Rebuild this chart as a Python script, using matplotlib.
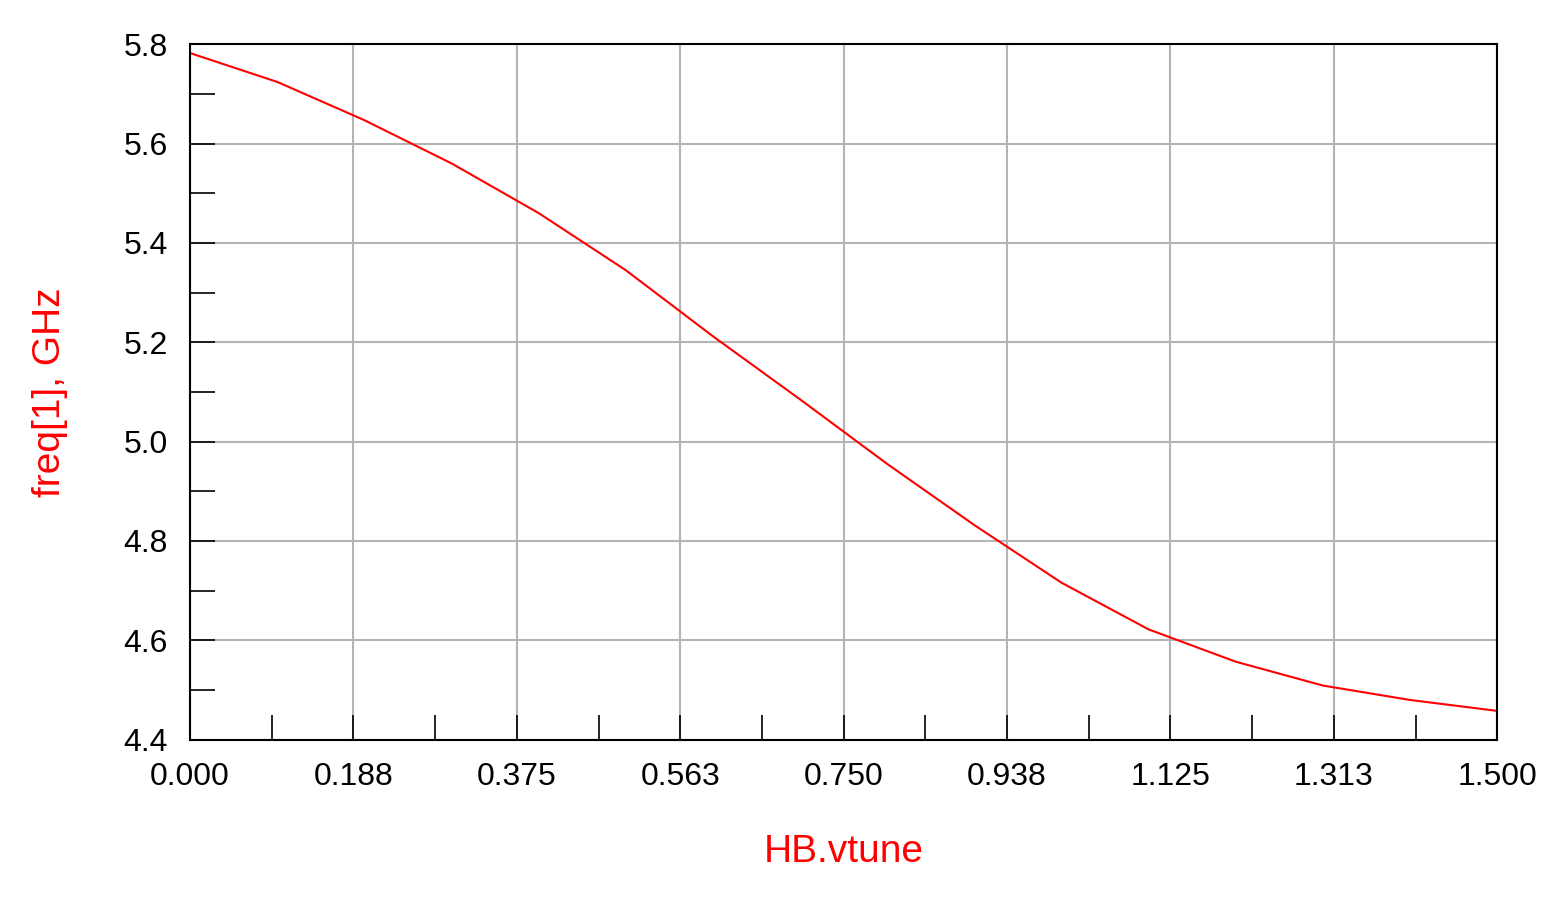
import matplotlib
matplotlib.use("Agg")
import matplotlib.pyplot as plt
from matplotlib.ticker import FixedLocator, MultipleLocator

plt.rcParams['font.family'] = ['Liberation Sans', 'DejaVu Sans']

vtune = [0.0, 0.1, 0.2, 0.3, 0.4, 0.5, 0.6, 0.7, 0.8, 0.9, 1.0, 1.1, 1.2, 1.3, 1.4, 1.5]
freq = [5.782, 5.724, 5.647, 5.560, 5.460, 5.345, 5.212, 5.085, 4.955, 4.832,
        4.716, 4.622, 4.557, 4.509, 4.480, 4.458]
xticks = [0.0, 0.1875, 0.375, 0.5625, 0.75, 0.9375, 1.125, 1.3125, 1.5]
xlabels = ["0.000", "0.188", "0.375", "0.563", "0.750", "0.938", "1.125", "1.313", "1.500"]

fig = plt.figure(figsize=(15.58, 9.01), dpi=100)
ax = fig.add_axes([0.122, 0.179, 0.839, 0.772])
ax.plot(vtune, freq, color="red", lw=1.5)
ax.set_xlim(0, 1.5)
ax.set_ylim(4.4, 5.8)
ax.xaxis.set_major_locator(FixedLocator(xticks))
ax.set_xticklabels(xlabels)
ax.xaxis.set_minor_locator(FixedLocator([(a + b) / 2 for a, b in zip(xticks[:-1], xticks[1:])]))
ax.yaxis.set_major_locator(MultipleLocator(0.2))
ax.yaxis.set_minor_locator(MultipleLocator(0.1))
ax.yaxis.set_major_formatter(matplotlib.ticker.FormatStrFormatter("%.1f"))
ax.grid(True, which="major", color="#b4b4b4", lw=1.5)
ax.tick_params(which="both", direction="in", labelsize=23, top=False, right=False, width=1.2)
ax.tick_params(which="major", length=18, pad=16)
ax.tick_params(which="minor", length=18)
for s in ax.spines.values():
    s.set_linewidth(1.5)
ax.set_xlabel("HB.vtune", color="red", fontsize=28, labelpad=30)
ax.set_ylabel("freq[1], GHz", color="red", fontsize=28, labelpad=40)
fig.savefig("out.png", dpi=100, facecolor="white")
